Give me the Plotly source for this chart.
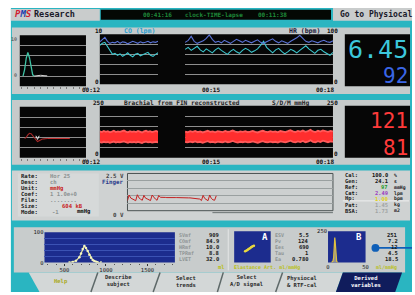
import numpy as np
import plotly.graph_objects as go

W, H = 415, 295
MONO = "DejaVu Sans Mono"

# ---------------- data ----------------
# small CO beat (panel 1, left)
small_spike_idx = [1, 2, 3, 4, 5, 6, 7, 8]
small_spike_co = [0.0, 1.6, 4.4, 5.8, 4.5, 2.0, 0.3, 0.0]
small_tail_idx = [8, 10, 12, 14, 16]
small_tail_co = [0.0, 0.15, 0.2, 0.1, 0.05]

# CO (lpm) and HR (bpm) trends, minutes 00:12 .. 00:18 (two recorded stretches)
seg1_start, seg1_end = 12.0, 13.5
seg2_start, seg2_end = 14.2, 18.0
co_seg1 = [7.8, 8.2, 8.4, 7.6, 6.6, 6.0, 6.2, 5.8, 6.1, 5.6, 5.9, 6.3, 5.8, 5.5,
           6.0, 6.2, 5.7, 5.9, 6.1, 6.4, 5.8, 5.6, 6.0, 6.3]
hr_seg1 = [85, 90, 94, 86, 82, 84, 83, 86, 82, 85, 84, 81, 83, 86, 84, 82, 85, 83,
           84, 86, 83, 85, 84, 86]
co_seg2 = [7.0, 7.4, 6.8, 7.2, 7.6, 6.9, 6.5, 7.1, 6.7, 6.3, 6.9, 7.3, 6.8, 6.4, 6.0,
           6.6, 7.0, 6.5, 6.2, 6.8, 7.2, 6.9, 6.4, 6.7, 7.1, 7.8, 8.6, 7.4, 6.8, 6.3,
           6.9, 7.2, 6.6, 6.1, 6.5, 7.0, 6.7, 6.3, 6.8, 7.3, 7.7, 7.1, 6.6, 6.2, 6.8,
           7.0, 6.5, 6.1, 5.8, 6.4]
hr_seg2 = [84, 88, 96, 86, 82, 85, 87, 92, 99, 90, 84, 86, 83, 88, 85, 82, 86, 90,
           87, 84, 88, 85, 83, 86, 89, 84, 82, 85, 88, 91, 86, 83, 87, 84, 82, 86,
           89, 93, 98, 92, 86, 84, 87, 85, 83, 86, 88, 85, 84, 87]
co_now, hr_now = "6.45", "92"

# small pressure beat (panel 2, left)
small_bp_idx = [2, 3, 4, 5, 6, 7, 8, 9, 10, 11, 12, 13, 14, 15, 16]
small_bp_val = [95, 100, 112, 120, 118, 108, 95, 85, 80, 84, 90, 92, 93, 94, 95]
small_bp_tail_idx = [16, 20, 24, 28, 30]
small_bp_tail_val = [95, 95, 96, 95, 95]
small_bp_mark_idx = [9, 10, 11]
small_bp_mark_val = [108, 90, 108]

# brachial pressure (mmHg) systolic / diastolic
sbp_seg1 = [127, 124, 129, 125, 128, 123, 126, 130, 124, 127, 125, 129, 131, 126, 123,
            128, 125, 127, 124, 129, 126, 122, 127, 130, 125, 128, 124, 126, 129, 125]
dbp_seg1 = [75, 73, 77, 74, 76, 72, 75, 78, 73, 76, 74, 77, 79, 75, 72, 76, 74, 76,
            73, 77, 75, 71, 76, 78, 74, 76, 73, 75, 77, 74]
sbp_seg2 = [126, 123, 128, 125, 129, 124, 127, 122, 126, 130, 125, 127, 123, 128, 126,
            124, 129, 125, 127, 131, 126, 123, 127, 125, 128, 124, 126, 129, 125, 122,
            127, 130, 126, 124, 128, 125, 127, 123, 129, 126, 124, 128, 133, 127, 124,
            129, 126, 131, 125, 128, 135, 127, 124, 130, 126, 132, 128, 125, 129, 127]
dbp_seg2 = [76, 74, 78, 75, 79, 74, 77, 72, 76, 80, 75, 77, 73, 78, 76, 74, 79, 75,
            77, 81, 76, 73, 77, 75, 78, 74, 76, 79, 75, 72, 77, 80, 76, 74, 78, 75,
            77, 73, 79, 76, 74, 78, 82, 77, 74, 79, 76, 81, 75, 78, 84, 77, 74, 80,
            76, 82, 78, 75, 79, 77]
sys_now, dia_now = "121", "81"

# finger pressure signal (V), 0.2 s samples
finger_step = 0.2
finger_v = [0.68, 1.05, 0.85, 0.78, 0.70, 0.67, 1.07, 0.86, 0.77, 0.70, 1.03, 0.84,
            0.79, 0.71, 0.68, 1.05, 0.87, 0.78, 0.70, 1.02, 0.90, 0.88, 0.88,
            0.89, 0.88, 0.89, 0.88, 0.88, 0.87, 0.88, 0.88, 0.87, 0.88, 0.87, 0.87,
            0.86, 0.87, 0.86, 0.86, 0.85, 0.85, 0.85, 0.84, 0.83,
            0.78, 0.68, 1.03, 0.82, 0.72, 0.67, 1.05, 0.83, 0.73, 0.70, 1.00]

# spectrum (bottom left)
spec_x = [560, 600, 640, 680, 700, 720, 740, 760, 780, 800, 820, 840, 860, 880, 900, 940]
spec_y = [0, 2, 6, 18, 30, 45, 55, 48, 38, 26, 16, 9, 5, 3, 1, 0]
spec_ticks = [500, 1000, 1500]

# A: elastance loop points, B: distribution
a_x = [3.0, 3.4, 3.8, 4.2, 4.6, 5.0, 5.4]
a_y = [3.6, 3.9, 4.2, 4.5, 4.9, 5.2, 5.4]
b_x = [4.5, 5.5, 6.5, 7.5, 8, 8.5, 9, 9.5, 10, 10.5, 11.5, 12.5, 13.5]
b_y = [0, 4, 12, 40, 110, 190, 200, 170, 90, 35, 10, 3, 0]

# texts
info_labels = ["Rate:", "Desc:", "Unit:", "Coef:", "File:", "Size:", "Mode:"]
info_values = ["Hor 25", "ch", "mmHg", "1 1.0e+0", "........", "604 kB", "-1"]
info_value_colors = ["#8c9292", "#8c9292", "#c81e1e", "#8c9292", "#8c9292", "#c81e1e", "#8c9292"]
info_value_x = [48, 48, 48, 48, 48, 60, 50]
cal_labels = ["Cal:", "Gen:", "Ref:", "Cat:", "Hp:", "Pat:", "BSA:"]
cal_values = ["100.0", "24.1", "97", "2.49", "1.00", "1.45", "1.73"]
cal_colors = ["#111111", "#111111", "#1f9a2a", "#9a3cc0", "#e0d020", "#a0a4a4", "#a0a4a4"]
cal_units = ["%", "s", "mmHg", "lpm", "bpm", "kg", "m2"]
der_labels = ["SVmf", "COmf", "HRmf", "TPRmf", "LVET"]
der_values = ["909", "84.9", "10.0", "8.8", "32.0"]
a_labels = ["ESV", "Pv", "Ees", "Tau", "Ea"]
a_values = ["5.5", "124", "690", "1", "0.780"]
b_values = ["251", "7.2", "12", "4.5", "18.5"]
tab_names = ["Help", "Describe<br>subject", "Select<br>trends", "Select<br>A/D signal",
             "Physiocal<br>& RTF-cal", "Derived<br>variables"]

# ---------------- helpers ----------------
shapes, annotations = [], []


def X(p):
    return p / W


def Y(p):
    return 1 - p / H


def rect(x0, y0, x1, y1, fill, lc=None, lw=0, layer="below"):
    shapes.append(dict(type="rect", xref="paper", yref="paper", x0=X(x0), x1=X(x1),
                       y0=Y(y1), y1=Y(y0), fillcolor=fill,
                       line=dict(color=lc or fill, width=lw), layer=layer))


def poly(pts, fill, lc=None, lw=0, layer="below"):
    path = "M " + " L ".join(f"{X(a):.5f},{Y(b):.5f}" for a, b in pts) + " Z"
    shapes.append(dict(type="path", xref="paper", yref="paper", path=path,
                       fillcolor=fill, line=dict(color=lc or fill, width=lw), layer=layer))


def seg(x0, y0, x1, y1, color, w=1, layer="above"):
    shapes.append(dict(type="line", xref="paper", yref="paper", x0=X(x0), y0=Y(y0),
                       x1=X(x1), y1=Y(y1), line=dict(color=color, width=w), layer=layer))


def text(x, y, s, size=6.5, color="#111111", anchor="left", bold=True):
    annotations.append(dict(xref="paper", yref="paper", x=X(x), y=Y(y),
                            text=f"<b>{s}</b>" if bold else s, showarrow=False,
                            xanchor=anchor, yanchor="middle", borderpad=0,
                            font=dict(size=size, color=color, family=MONO)))


def xa(x0, x1, anchor, rng, **kw):
    d = dict(domain=[X(x0), X(x1)], anchor=anchor, range=rng, showgrid=False,
             zeroline=False, showticklabels=False, ticks="", showline=False, fixedrange=True)
    d.update(kw)
    return d


def ya(y0, y1, anchor, rng, **kw):
    d = dict(domain=[Y(y1), Y(y0)], anchor=anchor, range=rng, showgrid=False,
             zeroline=False, showticklabels=False, ticks="", showline=False, fixedrange=True)
    d.update(kw)
    return d


TEAL = "#2ab5c1"
PANEL = "#c6caca"
BLACK = "#060606"
GRID = "#8e8e8e"
CO_C = "#3cc8cf"
HR_C = "#5a72d6"
RED = "#ff3a3a"

fig = go.Figure()


def line(x, y, xaxis, yaxis, color, width=1.1, **kw):
    fig.add_trace(go.Scatter(x=x, y=y, xaxis=xaxis, yaxis=yaxis, mode="lines",
                             line=dict(color=color, width=width), hoverinfo="skip", **kw))


# ---------------- backgrounds ----------------
rect(9, 5, 415, 295, TEAL)
# top bar
rect(9, 6, 99, 18, "#c9cccc")
rect(100, 7, 333, 17, "#040804")
rect(335, 5, 415, 18, "#c9cccc")
# panel 1
rect(10, 25, 413, 93, PANEL)
rect(18, 33, 85, 85, BLACK)
rect(99, 32, 335, 83, BLACK)
rect(347, 32, 413, 85, BLACK)
# panel 2
rect(10, 99, 413, 165, PANEL)
rect(18, 106, 85, 158, BLACK)
rect(99, 105, 335, 158, BLACK)
rect(347, 105, 413, 158, BLACK)
# panel 3
rect(10, 171, 413, 222, "#cfd2d2")
rect(16, 174, 98, 218, "#d6d9d9")
rect(127, 174, 335, 212, "#cdd0d0", lc="#4a5252", lw=1)
seg(213, 214, 335, 214, "#6a7272", 1, layer="below")
seg(345, 202, 412, 202, "#eef0f0", 1, layer="below")
# panel 4
rect(12, 229, 408, 275, "#c8cccc")
rect(43, 234, 175, 265, "#1c2c8e")
rect(235, 233, 272, 265, "#1c2c8e")
rect(330, 233, 368, 265, "#1c2c8e")
seg(229, 231, 229, 273, "#e4e6e6", 1, layer="below")
# tabs
tab_edges = [(27, 37), (97, 90), (160, 153), (224, 218), (284, 277), (345, 338)]
poly([(27, 275), (345, 275), (338, 295), (38, 295)], "#d3d7d7")
for (t, b) in tab_edges[1:-1]:
    seg(b, 295, t, 275, "#5d6868", 1.5)
poly([(345, 275), (405, 275), (398, 295), (338, 295)], "#101c5c")

# ---------------- axes ----------------
layout = dict(width=W, height=H, margin=dict(l=0, r=0, t=0, b=0),
              paper_bgcolor="white", plot_bgcolor="rgba(0,0,0,0)",
              showlegend=False, font=dict(family=MONO))

gridy = dict(showgrid=True, gridcolor=GRID, gridwidth=1, tickmode="array")
small_ticks = dict(ticks="outside", ticklen=2, tickcolor="#7a7a7a", dtick=4, tick0=0)

# panel 1
layout["xaxis"] = xa(18, 85, "y", [-1, 40], **small_ticks)
layout["yaxis"] = ya(33, 85, "x", [-2.5, 10], tickvals=[0, 2.5, 5, 7.5], **gridy)
layout["xaxis2"] = xa(99, 158, "y2", [seg1_start, seg1_end])
layout["xaxis3"] = xa(185, 335, "y2", [seg2_start - 0.01, seg2_end])
layout["yaxis2"] = ya(32, 83, "x2", [0, 10], tickvals=[2, 4, 6, 8], **gridy)
layout["yaxis3"] = ya(32, 83, "x2", [0, 100])
# panel 2
layout["xaxis4"] = xa(18, 85, "y4", [-1, 40], **small_ticks)
layout["yaxis4"] = ya(106, 158, "x4", [0, 250], tickvals=[50, 100, 150, 200], **gridy)
layout["xaxis5"] = xa(99, 158, "y5", [seg1_start, seg1_end])
layout["xaxis6"] = xa(185, 335, "y5", [seg2_start - 0.01, seg2_end])
layout["yaxis5"] = ya(105, 158, "x5", [0, 250], tickvals=[50, 100, 150, 200], **gridy)
# panel 3
layout["xaxis7"] = xa(127, 335, "y7", [0, 25])
layout["yaxis7"] = ya(174, 212, "x7", [0, 2.5], showgrid=True, gridcolor="#9aa0a0",
                      tickmode="array", tickvals=[0.5, 1.0, 1.5, 2.0])
# panel 4
tickf = dict(size=5.5, color="#1a1a1a", family=MONO)
layout["xaxis8"] = xa(43, 175, "y8", [260, 1830], showticklabels=True, tickmode="array",
                      tickvals=spec_ticks, ticktext=[str(v) for v in spec_ticks],
                      ticks="outside", ticklen=2, tickcolor="#333", tickfont=tickf,
                      minor=dict(dtick=100, ticks="outside", ticklen=1.5, tickcolor="#555"))
layout["yaxis8"] = ya(234, 265, "x8", [0, 100], showticklabels=True, tickmode="array",
                      tickvals=[0, 100], ticktext=["0", "100"], tickfont=tickf,
                      minor=dict(tickvals=[20, 40, 60, 80], showgrid=True,
                                 gridcolor="#3b52b4", gridwidth=1))
layout["xaxis9"] = xa(235, 272, "y9", [0, 10])
layout["yaxis9"] = ya(233, 265, "x9", [0, 10])
layout["xaxis10"] = xa(330, 368, "y10", [0, 50], showticklabels=True, tickmode="array",
                       tickvals=[0, 50], ticktext=["0", "50"], tickfont=tickf)
layout["yaxis10"] = ya(233, 265, "x10", [0, 250], showticklabels=True, tickmode="array",
                       tickvals=[250], ticktext=["250"], tickfont=tickf)

# ---------------- traces ----------------
t1 = np.linspace(seg1_start, seg1_end, len(co_seg1))
t2 = np.linspace(seg2_start, seg2_end, len(co_seg2))
line(small_spike_idx, small_spike_co, "x", "y", "#3ec2a4", 1.3)
line(small_tail_idx, small_tail_co, "x", "y", "#d8d8d8", 1.0)
line(t1, hr_seg1, "x2", "y3", HR_C)
line(t2, hr_seg2, "x3", "y3", HR_C)
line(t1, co_seg1, "x2", "y2", CO_C)
line(t2, co_seg2, "x3", "y2", CO_C)

line(small_bp_idx, small_bp_val, "x4", "y4", "#a82828", 1.1)
line(small_bp_tail_idx, small_bp_tail_val, "x4", "y4", "#d03030", 1.0)
line(small_bp_mark_idx, small_bp_mark_val, "x4", "y4", "#e8e8e8", 1.0)
b1 = np.linspace(seg1_start, seg1_end, len(sbp_seg1))
b2 = np.linspace(seg2_start, seg2_end, len(sbp_seg2))
line(b1, sbp_seg1, "x5", "y5", "#ff5a5a", 1.8)
line(b1, dbp_seg1, "x5", "y5", "#ff5a5a", 1.8, fill="tonexty", fillcolor="#ff2e2e")
line(b2, sbp_seg2, "x6", "y5", "#ff5a5a", 1.8)
line(b2, dbp_seg2, "x6", "y5", "#ff5a5a", 1.8, fill="tonexty", fillcolor="#ff2e2e")

ft = np.arange(len(finger_v)) * finger_step
line(ft, finger_v, "x7", "y7", "#c42020", 1.0)

fig.add_trace(go.Scatter(x=spec_x, y=spec_y, xaxis="x8", yaxis="y8", mode="lines+markers",
                         line=dict(color="#ecec9c", width=1.2),
                         marker=dict(size=2.5, color="#f4f4c0"), hoverinfo="skip"))
fig.add_trace(go.Scatter(x=a_x, y=a_y, xaxis="x9", yaxis="y9", mode="lines+markers",
                         line=dict(color="#d8c830", width=2),
                         marker=dict(size=2.5, color="#e8d840"), hoverinfo="skip"))
fig.add_trace(go.Scatter(x=b_x, y=b_y, xaxis="x10", yaxis="y10", mode="lines",
                         line=dict(color="#e0c040", width=1.2), fill="tozeroy",
                         fillcolor="rgba(240,225,150,0.55)", hoverinfo="skip"))

# ---------------- text ----------------
# top bar
text(12, 11.5, "<i><span style='color:#d02030'>P</span><span style='color:#2040b0'>M</span>"
     "<span style='color:#d02030'>S</span></i>", size=9)
text(31, 11.5, "Research", size=8.5, color="#1a1a2a")
text(142, 12, "00:41:16", size=6, color="#1f8a3a")
text(184, 12, "clock-TIME-lapse", size=6, color="#1f8a3a")
text(258, 12, "00:11:38", size=6, color="#1f8a3a")
text(341, 11.5, "Go to Physiocal", size=8, color="#1a1a2a")

# panel 1
text(98, 28.5, "10", size=6, anchor="center")
text(122, 28.5, "CO (lpm)", size=6.5, color="#2a9fd0")
text(289, 28.5, "HR (bpm)", size=6.5, color="#20203a")
text(341, 28.5, "100", size=6, anchor="right")
text(96, 80, "0", size=6, anchor="center")
text(338, 80, "0", size=6, anchor="center")
text(100, 88.5, "00:12", size=6, anchor="right")
text(212, 88.5, "00:15", size=6, anchor="center")
text(337, 88.5, "00:18", size=6, anchor="right")
text(16, 37, "10", size=5, color="#6a6a6a", anchor="right")
text(16, 73, "0", size=5, color="#6a6a6a", anchor="right")
text(412, 47, co_now, size=25, color="#3cc8dc", anchor="right", bold=False)
text(412, 75, hr_now, size=21, color="#3a66e6", anchor="right", bold=False)

# panel 2
text(98, 102, "250", size=6, anchor="center")
text(122, 102, "Brachial from FIN reconstructed", size=6.2, color="#222")
text(272, 102, "S/D/M mmHg", size=6.2, color="#222")
text(341, 102, "250", size=6, anchor="right")
text(96, 154, "0", size=6, anchor="center")
text(338, 154, "0", size=6, anchor="center")
text(100, 161.5, "00:12", size=6, anchor="right")
text(212, 161.5, "00:15", size=6, anchor="center")
text(337, 161.5, "00:18", size=6, anchor="right")
text(412, 120, sys_now, size=21, color=RED, anchor="right", bold=False)
text(412, 148, dia_now, size=21, color=RED, anchor="right", bold=False)

# panel 3
rows = [177, 183, 189, 195, 201, 207, 213]
for yy, lab, val, col, vx in zip(rows, info_labels, info_values, info_value_colors, info_value_x):
    text(18, yy, lab, size=5.6, color="#1a1a1a")
    text(vx, yy, val, size=5.6, color=col)
text(75, 213, "mmHg", size=5.6, color="#111")
text(125, 177, "2.5 V", size=5.8, color="#444", anchor="right")
text(123, 183, "Finger", size=5.8, color="#2a3a8a", anchor="right")
text(125, 216, "0 V", size=5.8, color="#444", anchor="right")
rows_r = [176, 182, 188, 194, 200, 206, 212]
for yy, lab, val, col, un in zip(rows_r, cal_labels, cal_values, cal_colors, cal_units):
    text(346, yy, lab, size=5.4, color="#1a1a1a")
    text(392, yy, val, size=5.4, color=col, anchor="right")
    text(396, yy, un, size=4.8, color="#1a1a1a")

# panel 4
rows_b = [237, 243, 249, 255, 261]
for yy, lab, val in zip(rows_b, der_labels, der_values):
    text(178, yy, lab, size=5, color="#8e9494")
    text(221, yy, val, size=5.5, color="#1a1a1a", anchor="right")
text(218, 269, "ml", size=5.5, color="#b8c020")
for yy, lab, val in zip(rows_b, a_labels, a_values):
    text(275, yy, lab, size=5, color="#8e9494")
    text(312, yy, val, size=5.5, color="#1a1a1a", anchor="right")
text(234, 269.5, "Elastance Art. ml/mmHg", size=5, color="#b8c020")
for yy, val in zip(rows_b, b_values):
    text(402, yy, val, size=5.5, color="#1a1a1a", anchor="right")
text(378, 269.5, "ml/mmHg", size=5, color="#b8c020")
text(266, 239, "A", size=9, color="white", anchor="center")
text(361, 239, "B", size=9, color="white", anchor="center")

# callout dot
shapes.append(dict(type="circle", xref="paper", yref="paper", x0=X(374), x1=X(382),
                   y0=Y(254), y1=Y(246), fillcolor="#0f5fb8", line=dict(color="#0f5fb8", width=0),
                   layer="above"))
seg(378, 250, 415, 250, "#0f5fb8", 1.6)

# tabs text
tab_x = [60, 118, 186, 247, 304, 368]
for i, (nm, tx) in enumerate(zip(tab_names, tab_x)):
    col = "#a8a820" if i == 0 else ("#ffffff" if i == len(tab_names) - 1 else "#2a2a2a")
    text(tx, 284, nm, size=5.5, color=col, anchor="center")

layout["shapes"] = shapes
layout["annotations"] = annotations
fig.update_layout(**layout)
fig.write_html("out.html", config={"displayModeBar": False},
               post_script="document.body.style.margin='0px';document.body.style.overflow='hidden';")
